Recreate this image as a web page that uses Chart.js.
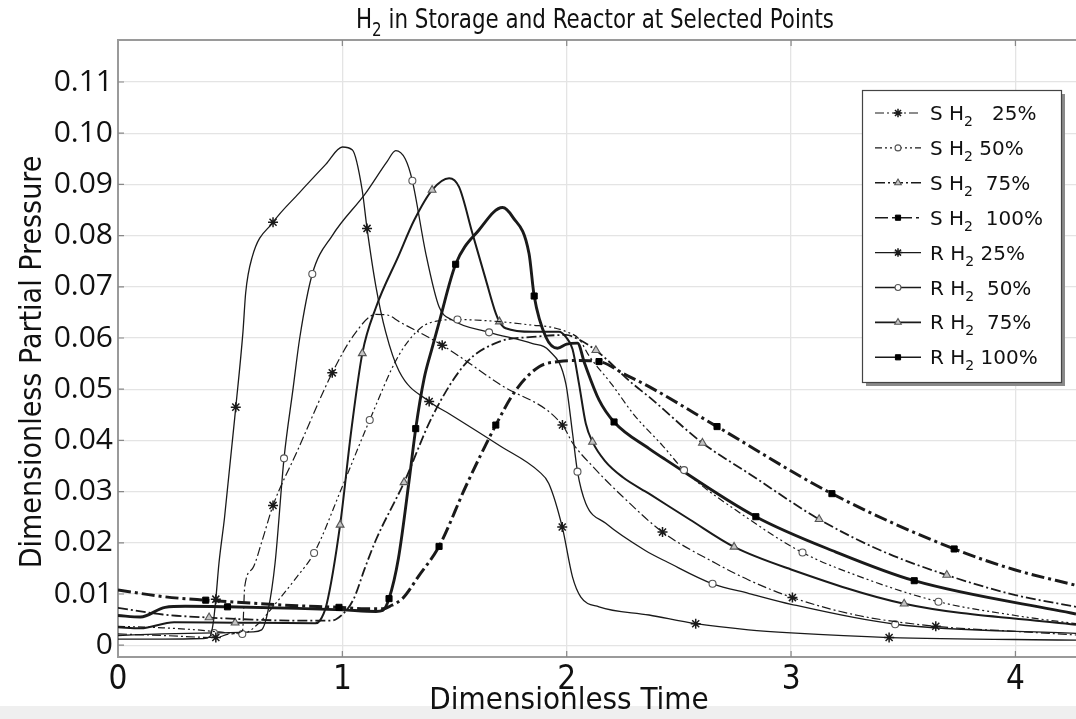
<!DOCTYPE html>
<html>
<head>
<meta charset="utf-8">
<title>H2 in Storage and Reactor at Selected Points</title>
<script src="https://cdn.jsdelivr.net/npm/chart.js@4.4.1/dist/chart.umd.min.js"></script>
<style>
  html, body { margin: 0; padding: 0; background: #fff; }
  #wrap { width: 1076px; height: 719px; }
</style>
</head>
<body>
<div id="wrap"><canvas id="h2chart" width="1076" height="719"></canvas></div>
<script>
// axis ticks
var xTicks = [0, 1, 2, 3, 4];
var yTicks = [0, 0.01, 0.02, 0.03, 0.04, 0.05, 0.06, 0.07, 0.08, 0.09, 0.10, 0.11];

var chartTitle = 'H₂ in Storage and Reactor at Selected Points';
var xTitle = 'Dimensionless Time';
var yTitle = 'Dimensionless Partial Pressure';
var labels = ['S H₂   25%', 'S H₂ 50%', 'S H₂  75%', 'S H₂  100%',
              'R H₂ 25%', 'R H₂  50%', 'R H₂  75%', 'R H₂ 100%'];

// storage (S) curves: time, value, times that carry a marker
var s25_t = [0, 0.2, 0.436, 0.5, 0.555, 0.565, 0.6, 0.643, 0.691, 0.8, 0.955, 1.05, 1.149, 1.2, 1.253, 1.445, 1.7, 1.981, 2.026, 2.114, 2.25, 2.427, 2.664, 2.813, 3.006, 3.3, 3.645, 4.0, 4.27];
var s25_v = [0.0022, 0.0019, 0.0015, 0.0022, 0.0028, 0.0115, 0.015, 0.0205, 0.0273, 0.038, 0.0532, 0.0605, 0.0646, 0.0645, 0.0632, 0.0586, 0.051, 0.043, 0.0395, 0.035, 0.029, 0.0221, 0.016, 0.0127, 0.0093, 0.0058, 0.0037, 0.0027, 0.002];
var s25_m = [0.436, 0.691, 0.955, 1.445, 1.981, 2.427, 3.006, 3.645];

var s50_t = [0, 0.2, 0.35, 0.45, 0.554, 0.62, 0.7, 0.8, 0.874, 1.0, 1.122, 1.25, 1.35, 1.42, 1.513, 1.7, 1.85, 1.92, 2.0, 2.055, 2.1, 2.2, 2.3, 2.427, 2.523, 2.8, 3.051, 3.3, 3.657, 4.0, 4.27];
var s50_v = [0.0037, 0.0034, 0.003, 0.0026, 0.0022, 0.004, 0.008, 0.0135, 0.018, 0.031, 0.044, 0.0565, 0.062, 0.0633, 0.0636, 0.0632, 0.0625, 0.0622, 0.0612, 0.0598, 0.0565, 0.051, 0.045, 0.039, 0.0342, 0.025, 0.0181, 0.0135, 0.0085, 0.0058, 0.0042];
var s50_m = [0.554, 0.874, 1.122, 1.513, 2.523, 3.051, 3.657];

var s75_t = [0, 0.2, 0.406, 0.6, 0.8, 0.95, 1.0, 1.05, 1.1, 1.149, 1.275, 1.4, 1.549, 1.7, 1.848, 1.996, 2.05, 2.13, 2.293, 2.367, 2.605, 2.813, 3.125, 3.4, 3.694, 4.0, 4.27];
var s75_v = [0.0073, 0.006, 0.0054, 0.005, 0.0048, 0.0048, 0.006, 0.009, 0.015, 0.0205, 0.0318, 0.0446, 0.055, 0.0593, 0.0602, 0.0606, 0.0598, 0.0576, 0.0511, 0.0485, 0.0395, 0.0335, 0.0246, 0.0185, 0.0137, 0.0098, 0.0075];
var s75_m = [0.406, 1.275, 2.13, 2.605, 3.125, 3.694];

var s100_t = [0, 0.2, 0.391, 0.6, 0.8, 0.985, 1.1, 1.18, 1.22, 1.27, 1.34, 1.431, 1.55, 1.684, 1.773, 1.877, 1.966, 2.05, 2.144, 2.263, 2.367, 2.67, 3.182, 3.727, 4.0, 4.27];
var s100_v = [0.0108, 0.0095, 0.0088, 0.0082, 0.0077, 0.0074, 0.0071, 0.0071, 0.0078, 0.0092, 0.0135, 0.0193, 0.031, 0.043, 0.0498, 0.0544, 0.0554, 0.0556, 0.0554, 0.0528, 0.0505, 0.0427, 0.0296, 0.0188, 0.0147, 0.0117];
var s100_m = [0.391, 0.985, 1.431, 1.684, 2.144, 2.67, 3.182, 3.727];

// reactor (R) curves
var r25_t = [0, 0.2, 0.38, 0.41, 0.425, 0.436, 0.45, 0.475, 0.525, 0.557, 0.569, 0.598, 0.691, 0.807, 0.926, 1.0, 1.045, 1.088, 1.11, 1.149, 1.193, 1.253, 1.387, 1.476, 1.7, 1.877, 1.92, 1.98, 2.026, 2.063, 2.144, 2.367, 2.575, 2.81, 3.0, 3.437, 4.27];
var r25_v = [0.0012, 0.0012, 0.0013, 0.0017, 0.0045, 0.009, 0.016, 0.025, 0.0465, 0.0612, 0.0688, 0.0758, 0.0826, 0.0883, 0.0939, 0.0973, 0.0967, 0.089, 0.0814, 0.0702, 0.0612, 0.0535, 0.0476, 0.0452, 0.039, 0.0339, 0.0316, 0.0231, 0.0133, 0.0094, 0.0075, 0.0059, 0.0042, 0.003, 0.0024, 0.0015, 0.001];
var r25_m = [0.436, 0.525, 0.691, 1.11, 1.387, 1.98, 2.575, 3.437];

var r50_t = [0, 0.2, 0.428, 0.6, 0.64, 0.67, 0.7, 0.74, 0.78, 0.81, 0.866, 0.955, 1.104, 1.2, 1.238, 1.28, 1.312, 1.372, 1.431, 1.49, 1.654, 1.848, 1.92, 1.996, 2.026, 2.048, 2.085, 2.174, 2.35, 2.45, 2.65, 2.813, 3.0, 3.464, 4.27];
var r50_v = [0.0019, 0.0022, 0.0024, 0.0026, 0.003, 0.007, 0.016, 0.0365, 0.05, 0.06, 0.0725, 0.08, 0.0883, 0.0945, 0.0966, 0.095, 0.0907, 0.0765, 0.0661, 0.0635, 0.0611, 0.0589, 0.0576, 0.0511, 0.0414, 0.0339, 0.0277, 0.0238, 0.0185, 0.0162, 0.012, 0.0101, 0.008, 0.0041, 0.0023];
var r50_m = [0.428, 0.74, 0.866, 1.312, 1.654, 2.048, 2.65, 3.464];

var r75_t = [0, 0.1, 0.25, 0.522, 0.88, 0.9, 0.93, 0.99, 1.04, 1.089, 1.15, 1.25, 1.32, 1.4, 1.476, 1.52, 1.58, 1.64, 1.684, 1.7, 1.728, 1.848, 1.966, 1.996, 2.026, 2.055, 2.085, 2.115, 2.17, 2.25, 2.367, 2.55, 2.746, 3.0, 3.504, 4.27];
var r75_v = [0.0035, 0.0033, 0.0045, 0.0044, 0.0043, 0.0048, 0.008, 0.0235, 0.042, 0.057, 0.066, 0.076, 0.083, 0.0889, 0.0912, 0.0895, 0.0804, 0.0713, 0.0648, 0.0632, 0.0619, 0.0612, 0.0612, 0.0602, 0.0578, 0.051, 0.0433, 0.0397, 0.036, 0.0328, 0.0296, 0.0245, 0.0192, 0.0148, 0.0081, 0.004];
var r75_m = [0.522, 0.99, 1.089, 1.4, 1.7, 2.115, 2.746, 3.504];

var r100_t = [0, 0.1, 0.21, 0.3, 0.488, 0.8, 1.0, 1.15, 1.18, 1.208, 1.25, 1.3, 1.327, 1.364, 1.4, 1.431, 1.505, 1.609, 1.714, 1.758, 1.832, 1.855, 1.907, 1.959, 2.0, 2.048, 2.08, 2.144, 2.211, 2.367, 2.442, 2.843, 3.2, 3.549, 4.27];
var r100_v = [0.0058, 0.0055, 0.0074, 0.0076, 0.0075, 0.0072, 0.0069, 0.0066, 0.0068, 0.0091, 0.017, 0.033, 0.0423, 0.052, 0.058, 0.063, 0.0744, 0.0811, 0.0855, 0.0837, 0.0765, 0.0682, 0.0602, 0.058, 0.0588, 0.059, 0.055, 0.0479, 0.0436, 0.0384, 0.0362, 0.0251, 0.0182, 0.0126, 0.0061];
var r100_m = [0.488, 1.208, 1.327, 1.505, 1.855, 2.211, 2.843, 3.549];

var INK = '#1a1a1a';
var TITLE_FONT = '"DejaVu Sans Condensed", "DejaVu Sans", sans-serif';

function pts(t, v) {
    var out = [];
    for (var i = 0; i < t.length; i++) {
        out.push({ x: t[i], y: v[i] });
    }
    return out;
}

// only the listed times get a visible marker
function markAt(marks, r) {
    return function (c) {
        var p = c.raw;
        return p && marks.indexOf(p.x) >= 0 ? r : 0;
    };
}

var markerStyle = {
    star: { pointStyle: 'star', r: 5, bg: INK, border: INK, bw: 1.5 },
    circle: { pointStyle: 'circle', r: 3.5, bg: '#fff', border: '#555', bw: 1.1 },
    triangle: { pointStyle: 'triangle', r: 4.5, bg: '#c4c4c4', border: '#555', bw: 1.1 },
    rect: { pointStyle: 'rect', r: 4.3, bg: '#000', border: '#000', bw: 1 }
};

function series(label, t, v, marks, marker, width, dash) {
    var m = markerStyle[marker];
    return {
        label: label,
        data: pts(t, v),
        borderColor: INK,
        borderWidth: width,
        borderDash: dash,
        fill: false,
        cubicInterpolationMode: 'monotone',
        tension: 0.4,
        pointStyle: m.pointStyle,
        pointRadius: markAt(marks, m.r),
        pointBackgroundColor: m.bg,
        pointBorderColor: m.border,
        pointBorderWidth: m.bw,
        legendRadius: m.r
    };
}

var datasets = [
    series(labels[0], s25_t, s25_v, s25_m, 'star', 1.2, [9, 3, 2, 3]),
    series(labels[1], s50_t, s50_v, s50_m, 'circle', 1.2, [7, 3, 2, 3, 2, 3]),
    series(labels[2], s75_t, s75_v, s75_m, 'triangle', 1.8, [10, 3, 2, 3]),
    series(labels[3], s100_t, s100_v, s100_m, 'rect', 3, [13, 4, 3, 4]),
    series(labels[4], r25_t, r25_v, r25_m, 'star', 1.3, []),
    series(labels[5], r50_t, r50_v, r50_m, 'circle', 1.3, []),
    series(labels[6], r75_t, r75_v, r75_m, 'triangle', 2, []),
    series(labels[7], r100_t, r100_v, r100_m, 'rect', 2.9, [])
];

// text with a subscript 2 where the string has "₂"
function drawRich(c, text, x, y, size, family, align, maxW) {
    var parts = text.split('₂');
    var segs = [];
    for (var i = 0; i < parts.length; i++) {
        if (i > 0) segs.push(['2', true]);
        if (parts[i]) segs.push([parts[i], false]);
    }
    var subSize = Math.round(size * 0.72);
    var w = 0;
    for (i = 0; i < segs.length; i++) {
        c.font = (segs[i][1] ? subSize : size) + 'px ' + family;
        w += c.measureText(segs[i][0]).width;
    }
    var k = maxW && w > maxW ? maxW / w : 1;
    var left = align === 'center' ? x - w * k / 2 : x;
    c.save();
    c.translate(left, y);
    c.scale(k, 1);
    c.textAlign = 'left';
    c.textBaseline = 'alphabetic';
    var cx = 0;
    for (i = 0; i < segs.length; i++) {
        c.font = (segs[i][1] ? subSize : size) + 'px ' + family;
        c.fillText(segs[i][0], cx, segs[i][1] ? size * 0.3 : 0);
        cx += c.measureText(segs[i][0]).width;
    }
    c.restore();
}

var decor = {
    id: 'decor',
    beforeDraw: function (chart) {
        var c = chart.ctx;
        c.save();
        c.fillStyle = '#fff';
        c.fillRect(0, 0, chart.width, chart.height);
        c.fillStyle = '#efefef';
        c.fillRect(0, 706, chart.width, chart.height - 706);
        c.restore();
    },
    afterDraw: function (chart) {
        var c = chart.ctx;
        var a = chart.chartArea;
        var xs = chart.scales.x, ys = chart.scales.y;
        var i;
        c.save();

        // frame top edge and inner tick marks
        c.strokeStyle = '#9a9a9a';
        c.lineWidth = 2;
        c.beginPath();
        c.moveTo(a.left, a.top);
        c.lineTo(a.right, a.top);
        c.stroke();
        c.lineWidth = 1.2;
        c.strokeStyle = '#888';
        c.beginPath();
        for (i = 1; i < xTicks.length; i++) {
            var px = xs.getPixelForValue(xTicks[i]);
            c.moveTo(px, a.top); c.lineTo(px, a.top + 6);
            c.moveTo(px, a.bottom); c.lineTo(px, a.bottom - 6);
        }
        for (i = 0; i < yTicks.length; i++) {
            var py = ys.getPixelForValue(yTicks[i]);
            c.moveTo(a.left, py); c.lineTo(a.left + 6, py);
        }
        c.stroke();

        // titles
        c.fillStyle = '#111';
        drawRich(c, chartTitle, 595, 28, 27, TITLE_FONT, 'center', 478);
        drawRich(c, xTitle, 569, 709, 31, TITLE_FONT, 'center', 353);
        c.save();
        c.translate(41, 362);
        c.rotate(-Math.PI / 2);
        drawRich(c, yTitle, 0, 0, 30, TITLE_FONT, 'center', 425);
        c.restore();

        // legend box with drop shadow
        var bx = 862, by = 90, bw = 199, bh = 292;
        c.fillStyle = '#8a8a8a';
        c.fillRect(bx + 4, by + 4, bw, bh);
        c.fillStyle = '#fff';
        c.fillRect(bx, by, bw, bh);
        c.strokeStyle = '#444';
        c.lineWidth = 1.2;
        c.strokeRect(bx + 0.5, by + 0.5, bw, bh);

        var ds = chart.data.datasets;
        for (i = 0; i < ds.length; i++) {
            var d = ds[i];
            var ry = 113 + i * 34.9;
            c.save();
            c.strokeStyle = d.borderColor;
            c.lineWidth = Math.min(d.borderWidth, 1.6);
            c.setLineDash(d.borderDash);
            c.beginPath();
            c.moveTo(875, ry);
            c.lineTo(921, ry);
            c.stroke();
            c.setLineDash([]);
            c.fillStyle = d.pointBackgroundColor;
            c.strokeStyle = d.pointBorderColor;
            c.lineWidth = d.pointBorderWidth;
            Chart.helpers.drawPoint(c, {
                pointStyle: d.pointStyle,
                radius: d.legendRadius * 0.85,
                borderWidth: d.pointBorderWidth,
                rotation: 0
            }, 898, ry);
            c.restore();
            c.fillStyle = '#111';
            drawRich(c, d.label, 930, ry + 7, 20, '"DejaVu Sans", sans-serif', 'left');
        }
        c.restore();
    }
};

var chart = new Chart(document.getElementById('h2chart').getContext('2d'), {
    type: 'line',
    data: { datasets: datasets },
    plugins: [decor],
    options: {
        responsive: false,
        animation: false,
        devicePixelRatio: 1,
        events: [],
        layout: { padding: { top: 40, right: 0, left: 0, bottom: 0 } },
        plugins: {
            legend: { display: false },
            tooltip: { enabled: false },
            title: { display: false }
        },
        scales: {
            x: {
                type: 'linear',
                min: 0,
                max: 4.27,
                afterBuildTicks: function (s) {
                    s.ticks = xTicks.map(function (v) { return { value: v }; });
                },
                afterFit: function (s) { s.height = 62; },
                grid: { color: '#e4e4e4', lineWidth: 1.3, drawTicks: false },
                border: { display: true, color: '#9a9a9a', width: 2 },
                ticks: {
                    padding: 4,
                    maxRotation: 0,
                    color: '#111',
                    font: { family: '"Liberation Sans Narrow", "DejaVu Sans Condensed", "DejaVu Sans", sans-serif', size: 33 },
                    callback: function (v) { return String(v); }
                }
            },
            y: {
                type: 'linear',
                min: -0.0023,
                max: 0.1182,
                afterBuildTicks: function (s) {
                    s.ticks = yTicks.map(function (v) { return { value: v }; });
                },
                afterFit: function (s) { s.width = 118; },
                grid: { color: '#e4e4e4', lineWidth: 1.3, drawTicks: false },
                border: { display: true, color: '#9a9a9a', width: 2 },
                ticks: {
                    padding: 5,
                    color: '#111',
                    font: { family: '"Open Sans", sans-serif', size: 30 },
                    callback: function (v) { return v === 0 ? '0' : v.toFixed(2); }
                }
            }
        }
    }
});
</script>
</body>
</html>
